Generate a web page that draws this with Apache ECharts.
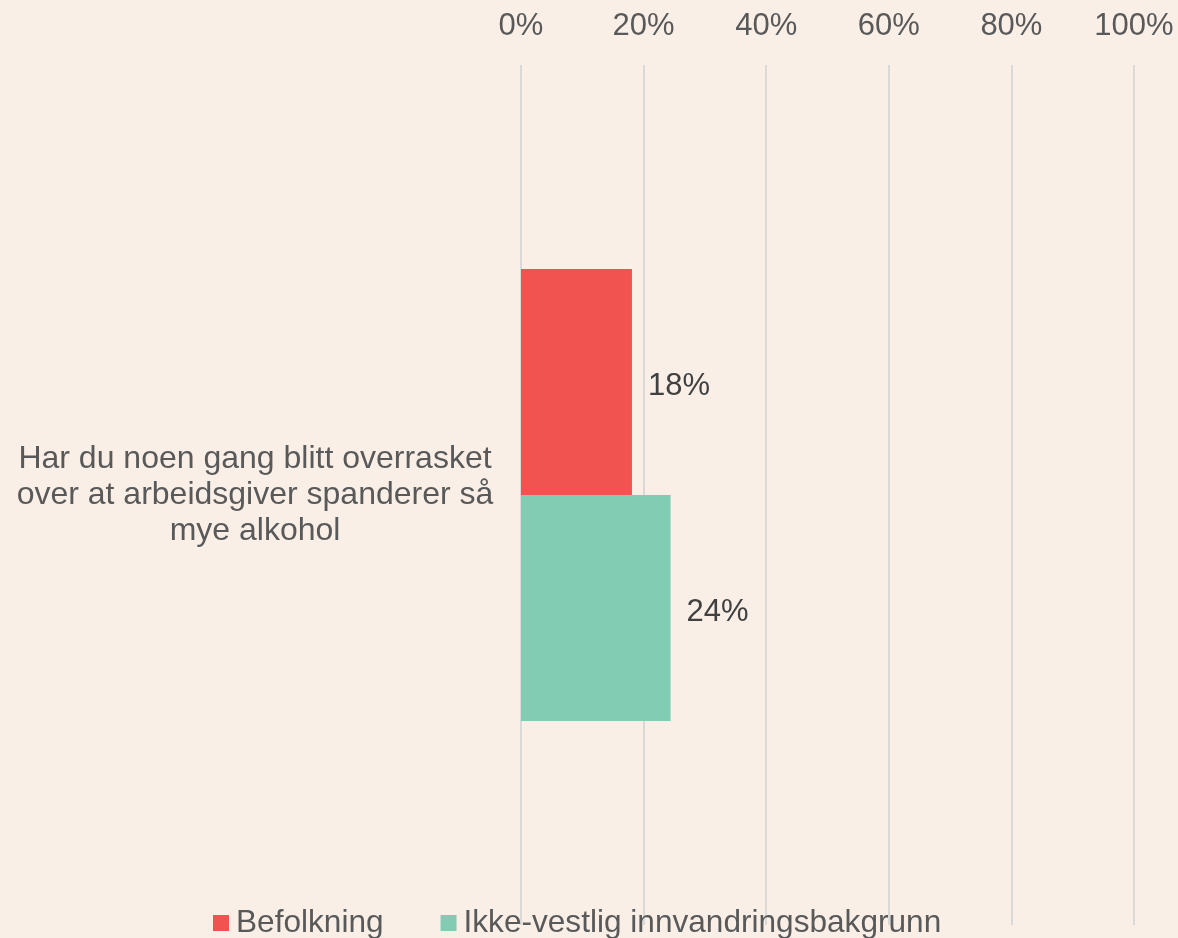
<!DOCTYPE html>
<html>
<head>
<meta charset="utf-8">
<script src="https://cdn.jsdelivr.net/npm/echarts@6/dist/echarts.min.js"></script>
<style>
  html, body { margin: 0; padding: 0; background: #F9EFE7; }
  #chart { width: 1178px; height: 938px; }
</style>
</head>
<body>
<div id="chart"></div>
<script>
const categories = ["Har du noen gang blitt overrasket\nover at arbeidsgiver spanderer så\nmye alkohol"];
const befolkning = [18.1];
const ikkeVestlig = [24.4];
const tickValues = [0, 20, 40, 60, 80, 100];

const myChart = echarts.init(document.getElementById("chart"));

const labelStyle = {
  show: true,
  position: "right",
  distance: 16,
  offset: [0, 4],
  fontSize: 31,
  color: "#404040",
  fontFamily: "Liberation Sans, Arial",
  formatter: (p) => Math.round(p.value) + "%",
};

const option = {
  backgroundColor: "#F9EFE7",
  textStyle: { fontFamily: "Liberation Sans, Arial" },
  grid: { left: 521, right: 44, top: 65, bottom: 13, containLabel: false },
  legend: {
    bottom: -6,
    left: 208,
    itemWidth: 16,
    itemHeight: 16,
    itemGap: 57,
    icon: "rect",
    textStyle: { fontSize: 31.6, color: "#595959", padding: [0, 0, 0, 2] },
    data: ["Befolkning", "Ikke-vestlig innvandringsbakgrunn"],
  },
  xAxis: {
    type: "value",
    position: "top",
    min: tickValues[0],
    max: tickValues[tickValues.length - 1],
    interval: 20,
    axisLine: { show: false },
    axisTick: { show: false },
    axisLabel: {
      fontSize: 31,
      color: "#595959",
      margin: 23,
      formatter: "{value}%",
    },
    splitLine: { lineStyle: { color: "#D9D9D9", width: 2 } },
  },
  yAxis: {
    type: "category",
    inverse: true,
    data: categories,
    axisLine: { show: false },
    axisTick: { show: false },
    axisLabel: {
      fontSize: 32,
      lineHeight: 36,
      color: "#595959",
      align: "center",
      margin: 266,
      padding: [14, 0, 0, 0],
    },
  },
  series: [
    {
      name: "Befolkning",
      type: "bar",
      data: befolkning,
      barWidth: 226,
      barGap: "0%",
      itemStyle: { color: "#F05350" },
      label: labelStyle,
    },
    {
      name: "Ikke-vestlig innvandringsbakgrunn",
      type: "bar",
      data: ikkeVestlig,
      barWidth: 226,
      barGap: "0%",
      itemStyle: { color: "#83CCB4" },
      label: labelStyle,
    },
  ],
};

myChart.setOption(option);
</script>
</body>
</html>
